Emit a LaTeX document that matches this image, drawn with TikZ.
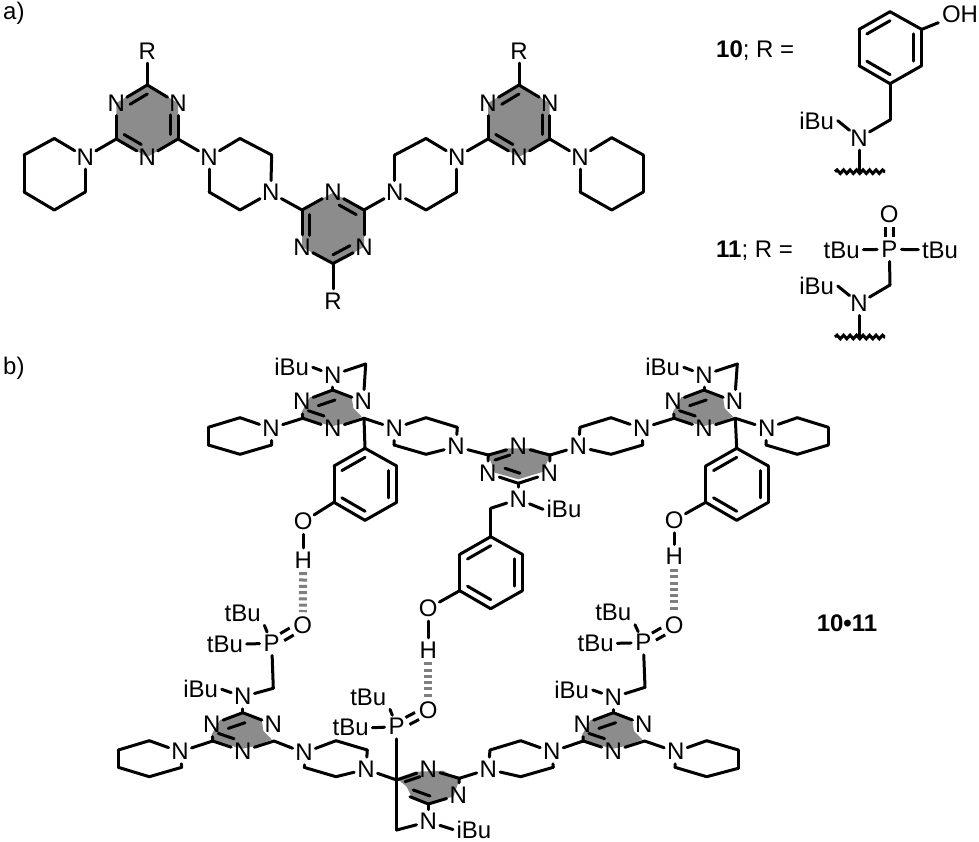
\documentclass[tikz,border=0pt]{standalone}
\usepackage{fontspec}
\setmainfont{Liberation Sans}
\usetikzlibrary{calc,decorations.pathmorphing}
\definecolor{ringgrey}{HTML}{8C8C8C}
\definecolor{hbgrey}{HTML}{7F7F7F}
\tikzset{
  chem/.style={font=\fontsize{24}{24}\selectfont,text=black},
  atom/.style={chem,circle,inner sep=0pt,minimum size=24pt},
  lab/.style={chem,rectangle,inner sep=3.5pt},
  txt/.style={chem,inner sep=0pt},
  bond/.style={line width=3pt,line cap=round,line join=round,black},
  hb/.style={line width=8pt,hbgrey,dash pattern=on 3pt off 3.3pt},
  wav/.style={line width=3pt,black,decorate,decoration={snake,segment length=6.5pt,amplitude=1.8pt}},
  ringfill/.style={fill=ringgrey,draw=none}
}
% second line of a double bond in a regular ring (#1 = shortening at first end)
\newcommand\dbl[4][7pt]{\draw[bond,shorten <=#1] ($(#2)!.25!(#4)$) -- ($(#3)!.25!(#4)$);}
% regular triazine, carbon on top
\newcommand\hexA[3]{%
 \begin{scope}[shift={(#2,#3)}]
  \fill[ringfill] (0,0)--(30.7,18)--(30.7,54)--(0,72)--(-31,54)--(-31,18)--cycle;
  \coordinate (#1t) at (0,0); \coordinate (#1c) at (0,36);
  \coordinate (#1lr) at (30.7,54); \coordinate (#1ll) at (-31,54);
  \node[atom] (#1ur) at (30.7,18.5) {N};
  \node[atom] (#1b) at (0,72) {N};
  \node[atom] (#1ul) at (-31,18.5) {N};
 \end{scope}
 \foreach \p/\q in {t/ur,ur/lr,lr/b,b/ll,ll/ul,ul/t}{\draw[bond] (#1\p)--(#1\q);}
 \dbl{#1ul}{#1t}{#1c}\dbl{#1ur}{#1lr}{#1c}\dbl{#1b}{#1ll}{#1c}}
% squashed triazine, carbon on top
\newcommand\sqA[3]{%
 \begin{scope}[shift={(#2,#3)}]
  \fill[ringfill] (-31,21.7)--(-22.7,7.3)--(0,.7)--(19,7.3)--(20.7,18.3)--(29,26.7)--(14,33)--(0,36)--(-28,29)--cycle;
  \coordinate (#1t) at (0,0);
  \coordinate (#1lr) at (31.3,28.3); \coordinate (#1ll) at (-30,28.3);
  \node[atom] (#1ur) at (30.6,11.7) {N};
  \node[atom] (#1b) at (0,38.3) {N};
  \node[atom] (#1ul) at (-31,11.7) {N};
  \draw[bond] (-14.4,15.7)--(2.3,10);
  \draw[bond] (-24.4,20.7)--(-8.7,26);
 \end{scope}
 \foreach \p/\q in {t/ur,lr/b,b/ll,ll/ul,ul/t}{\draw[bond] (#1\p)--(#1\q);}}
% benzene ring, vertex on top
\newcommand\phen[3]{%
 \begin{scope}[shift={(#2,#3)}]
  \coordinate (#1t) at (0,0); \coordinate (#1ur) at (31.7,17.7);
  \coordinate (#1lr) at (31.7,54); \coordinate (#1b) at (0,72);
  \coordinate (#1ll) at (-31,54); \coordinate (#1ul) at (-31,17.7);
  \coordinate (#1c) at (.3,36);
 \end{scope}
 \foreach \p/\q in {t/ur,ur/lr,lr/b,b/ll,ll/ul,ul/t}{\draw[bond] (#1\p)--(#1\q);}
 \dbl[0pt]{#1ul}{#1t}{#1c}\dbl[0pt]{#1ur}{#1lr}{#1c}\dbl[0pt]{#1ll}{#1b}{#1c}}
\newcommand\vtx[1]{\foreach \n/\a/\b in {#1}{\coordinate (\n) at (\a,\b);}}
\newcommand\atm[1]{\foreach \n/\a/\b/\t in {#1}{\node[atom] (\n) at (\a,\b) {\t};}}
\newcommand\lbl[1]{\foreach \n/\a/\b/\t in {#1}{\node[lab] (\n) at (\a,\b) {\t};}}
\newcommand\bnd[1]{\foreach \p/\q in {#1}{\draw[bond] (\p)--(\q);}}
\begin{document}
\begin{tikzpicture}[x=1pt,y=-1pt]
\useasboundingbox (0,0) rectangle (979,842);
\node[txt,anchor=base west] (la) at (3,20) {a)};
\node[txt,anchor=base west] (lb) at (3,374) {b)};
\node[txt,anchor=base west] (l10) at (716,58) {\textbf{10}; R =};
\node[txt,anchor=base west] (l11) at (716,258) {\textbf{11}; R =};
\node[txt,anchor=base] (l1011) at (847,631) {\textbf{10•11}};
%%% part a
\hexA{A}{147.3}{85}
\hexA{C}{519}{85}
\fill[ringfill] (333,192.7)--(364,210)--(364,247)--(333,264)--(302,247)--(302,210)--cycle;
\atm{Bt/333/192.7/N,Blr/364/247/N,Bll/302/247/N,RA/147.3/51/R,RB/333/301/R,RC/519/51/R,
 Np1/85.3/157/N,Nz1/209/157/N,Nz2/270.7/192.7/N,Nz3/394.7/192.7/N,Nz4/456.7/157/N,Np2/580/157/N}
\vtx{But/364/210,Bb/333/263.5,Bul/302/210,Bc/333/228.5,
 p1/54.3/138.5,p2/24/155,p3/24/192,p4/54.3/210,p5/85.3/192,
 z1/240/138.5,z2/271.7/155,z3/240/210,z4/209/192,
 z5/394.7/155,z6/426/138.5,z7/456.7/192,z8/426/210,
 q1/611.7/137.7,q2/643.3/155,q3/643.3/192,q4/611.7/210,q5/580/192}
\bnd{Bt/But,But/Blr,Blr/Bb,Bb/Bll,Bll/Bul,Bul/Bt}
\dbl{Bt}{But}{Bc}\dbl{Bll}{Bul}{Bc}\dbl{Blr}{Bb}{Bc}
\bnd{At/RA,Ct/RC,Bb/RB,All/Np1,Alr/Nz1,Nz2/Bul,But/Nz3,Nz4/Cll,Clr/Np2,
 Np1/p1,p1/p2,p2/p3,p3/p4,p4/p5,p5/Np1,
 Nz1/z1,z1/z2,z2/Nz2,Nz2/z3,z3/z4,z4/Nz1,
 Nz3/z5,z5/z6,z6/Nz4,Nz4/z7,z7/z8,z8/Nz3,
 Np2/q1,q1/q2,q2/q3,q3/q4,q4/q5,q5/Np2}
%%% R groups
\phen{r}{890}{11.7}
\node[lab] (OHa) at (960,14) {OH};
\atm{Na/859/138/N,Nc/859/303.3/N,Pc/889.3/249.3/P,Oc/889.3/214/O}
\lbl{ia/816.7/120.7/iBu,ic/816.7/286/iBu,tc1/841.7/250/tBu,tc2/940/250/tBu}
\vtx{ca/890/120,wa/859/171.7,wal/835/171.7,war/885/171.7,
 cc/890/285,wc/859/337,wcl/835/337,wcr/885/337}
\bnd{rur/OHa,rb/ca,ca/Na,Na/wa,ia.east/Na,Pc/cc,cc/Nc,Nc/wc,ic.east/Nc,tc1/Pc,Pc/tc2}
\draw[wav] (wal)--(war);
\draw[wav] (wcl)--(wcr);
\draw[bond,line cap=butt,transform canvas={xshift=-4pt}] (Pc)--(Oc);
\draw[bond,line cap=butt,transform canvas={xshift=4pt}] (Pc)--(Oc);
%%% part b, upper
\sqA{D}{332.7}{390}
\sqA{E}{704}{390}
\fill[ringfill] (488.3,455)--(505,448.3)--(533.3,448.3)--(549.3,456.7)--(543.3,471.7)--(518.3,479.3)--(495,472.7)--cycle;
\atm{Ft/518.3/446.7/N,Flr/549.3/473.3/N,Fll/487.7/473.3/N,
 Nd/332.7/375/N,Ne/704/375/N,Nf/518.3/499.3/N,
 Nd1/271/428.3/N,Nd2/394.3/428.3/N,Nd3/456/446.7/N,Nd4/578.3/446.7/N,Nd5/641.7/428.3/N,Nd6/766.7/428.3/N,
 Od/303.3/521.7/O,Hd/303.3/560/H,Oe/674.3/520/O,He/674.3/556.7/H,Of/428.3/608.3/O,Hf/428.3/650/H}
\lbl{id/291.7/367.3/iBu,ie/662.7/367.3/iBu,ifx/564/509.3/iBu}
\vtx{Ful/488.3/455,Fur/550/455,Fb/518.3/483.3,cd/365.7/364,ce/737.3/364,cf/490.7/508.3,
 a1/258.3/423.3,a2/240/417.7,a3/208.3/427.3,a4/208.3/445,a5/240/454.3,a6/271.7/445,
 b1/426/417.7,b2/457.3/427.3,b3/426/454.3,b4/394/445,
 c1/611/417.7,c2/580/427.3,c3/611/454.3,c4/642.7/445,
 d1/797.3/417.7,d2/828.3/427.3,d3/828.3/445,d4/797.3/454.3,d5/766/445}
\draw[bond] (495,460)--(510,455);
\draw[bond] (505,468.3)--(520,473.3);
\bnd{Ful/Ft,Ft/Fur,Flr/Fb,Fb/Fll,Fll/Ful,Fur/Flr,Fb/Nf,Nf/ifx.west,Nf/cf,
 Dt/Nd,Nd/id.east,Nd/cd,cd/Dur,Et/Ne,Ne/ie.east,Ne/ce,ce/Eur,
 Dll/Nd1,Nd1/a2,a2/a3,a3/a4,a4/a5,a5/a6,a6/Nd1,
 Dlr/Nd2,Nd2/b1,b1/b2,b2/Nd3,Nd3/b3,b3/b4,b4/Nd2,Nd3/Ful,Fur/Nd4,
 Nd4/c2,c2/c1,c1/Nd5,Nd5/c4,c4/c3,c3/Nd4,Nd5/Ell,
 Elr/Nd6,Nd6/d1,d1/d2,d2/d3,d3/d4,d4/d5,d5/Nd6}
\phen{g}{365}{448.3}
\phen{h}{736.7}{448.3}
\phen{k}{490.7}{536.7}
\bnd{Dlr/gt,Elr/ht,cf/kt,gll/Od,hll/Oe,kll/Of,Od/Hd,Oe/He,Of/Hf}
%%% part b, lower
\sqA{L}{242.7}{712.7}
\sqA{M}{613.3}{712.7}
\fill[ringfill] (396.7,778.3)--(415,771.7)--(443.3,770.7)--(459.3,780)--(453.3,796.7)--(428.3,802.7)--(411.7,796.7)--(406.7,786.7)--cycle;
\atm{Gt/428.3/769.3/N,Glr/458.3/795/N,Ng/428.3/821.7/N,
 Nl/242.7/696.7/N,Nm/613.3/697.3/N,
 Pl/271.7/643.3/P,Pg/396.7/726.7/P,Pm/643.3/642.7/P,
 Ol/302.7/625/O,Og/428.3/710/O,Om/674.3/625/O,
 Nb1/180/751.7/N,Nb2/304/752.7/N,Nb3/366/769.3/N,Nb4/488.3/769.3/N,Nb5/551.7/751.7/N,Nb6/675.7/751.7/N}
\lbl{il/200.7/689.3/iBu,im/571.7/690/iBu,ig/474/829.5/iBu,
 tl1/242.7/613.3/tBu,tl2/225/644/tBu,
 tg1/368.3/697.3/tBu,tg2/350.7/727.7/tBu,
 tm1/613.3/612.7/tBu,tm2/595.7/643.3/tBu}
\vtx{Gul/396.7/780,Gur/459.3/778.3,Gb/428.3/804,Gll/410/796.7,
 cl/273.3/688.3,cm/645/687.3,cg/396.7/830,
 e1/149.3/740.7,e2/118.3/750,e3/118.3/767.3,e4/149.3/776.7,e5/181.7/767.3,
 f1/336/740.7,f2/367.3/750,f3/336/776.7,f4/304/767.3,
 u1/490/750,u2/520.7/740.7,u3/553.3/767.3,u4/520.7/776.7,
 v1/706.7/740.7,v2/738.3/750,v3/738.3/768.3,v4/706.7/776.7,v5/675/767.3}
\draw[bond] (405,781.7)--(420,776.7);
\draw[bond] (413.3,790)--(430,796);
\bnd{Gul/Gt,Gt/Gur,Gur/Glr,Glr/Gb,Gb/Gll,Gb/Ng,Ng/ig.west,Ng/cg,cg/Pg,
 Lt/Nl,Nl/il.east,Nl/cl,cl/Pl,Pl/tl2.east,Pl/tl1.south east,
 Mt/Nm,Nm/im.east,Nm/cm,cm/Pm,Pm/tm2.east,Pm/tm1.south east,
 Pg/tg2.east,Pg/tg1.south east,
 Lll/Nb1,Nb1/e1,e1/e2,e2/e3,e3/e4,e4/e5,e5/Nb1,
 Llr/Nb2,Nb2/f1,f1/f2,f2/Nb3,Nb3/f3,f3/f4,f4/Nb2,Nb3/Gul,
 Gur/Nb4,Nb4/u1,u1/u2,u2/Nb5,Nb5/u3,u3/u4,u4/Nb4,Nb5/Mll,
 Mlr/Nb6,Nb6/v1,v1/v2,v2/v3,v3/v4,v4/v5,v5/Nb6}
\foreach \p/\o in {Pl/Ol,Pg/Og,Pm/Om}{
 \draw[bond,line cap=butt,transform canvas={xshift=-2pt,yshift=3.5pt}] (\p)--(\o);
 \draw[bond,line cap=butt,transform canvas={xshift=2pt,yshift=-3.5pt}] (\p)--(\o);}
\draw[hb] (Hd)--(Ol);
\draw[hb] (He)--(Om);
\draw[hb] (Hf)--(Og);
\end{tikzpicture}
\end{document}
